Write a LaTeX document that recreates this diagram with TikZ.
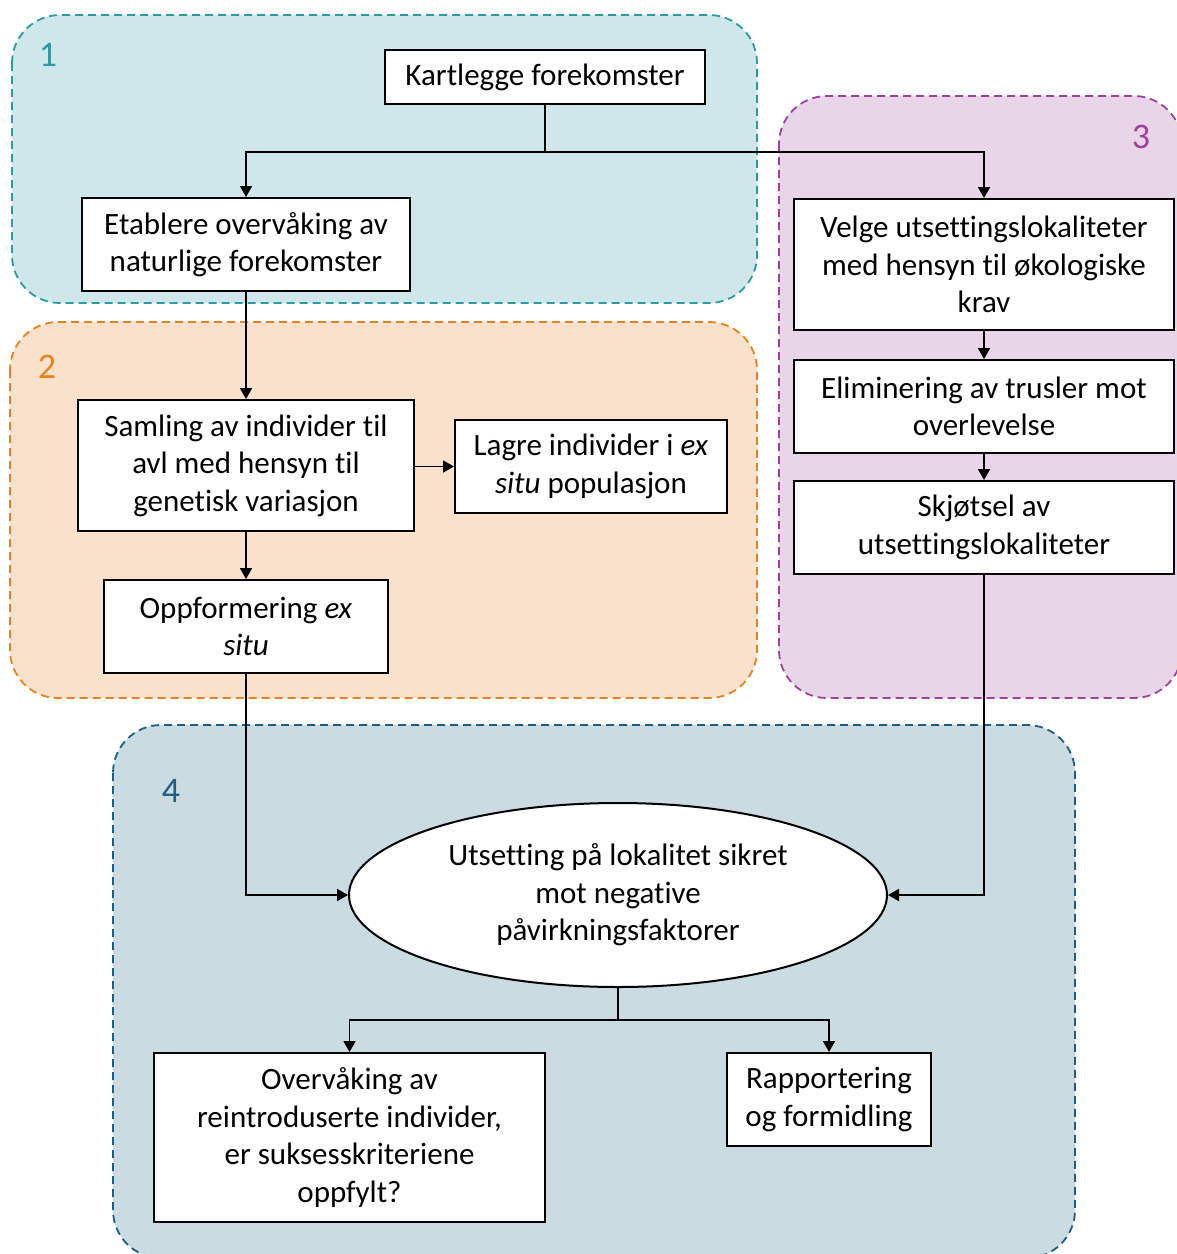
\documentclass[tikz,border=0pt]{standalone}
\usepackage{fontspec}
\setmainfont{Carlito}[Ligatures={NoCommon}]
\usetikzlibrary{arrows.meta,shapes.geometric}
\definecolor{tealfill}{HTML}{CFE7EA}
\definecolor{tealline}{HTML}{2A9BA3}
\definecolor{orfill}{HTML}{FAE1CB}
\definecolor{orline}{HTML}{E8821E}
\definecolor{pufill}{HTML}{E8D6E8}
\definecolor{puline}{HTML}{A0409C}
\definecolor{blfill}{HTML}{CADBE2}
\definecolor{blline}{HTML}{1C5F82}
\tikzset{
  region/.style={line width=1.8pt, dash pattern=on 8pt off 5pt, rounded corners=48pt},
  regnum/.style={font=\fontsize{36}{40}\selectfont, anchor=center},
  stepbox/.style={draw=black, fill=white, line width=2pt, align=center, inner sep=0pt,
     font=\fontsize{31}{37.5}\selectfont},
  conn/.style={line width=1.8pt, -{Triangle[length=11pt,width=12pt]}},
  plain/.style={line width=1.8pt}
}
\begin{document}
\begin{tikzpicture}[x=1pt,y=-1pt]
\useasboundingbox (0,0) rectangle (1177,1254);
\clip (0,0) rectangle (1177,1254);
% regions
\draw[region, fill=tealfill, draw=tealline] (12,15) rectangle (757,303);
\draw[region, fill=orfill, draw=orline] (10,322) rectangle (757,698);
\draw[region, fill=pufill, draw=puline] (779,96) rectangle (1182,698);
\draw[region, fill=blfill, draw=blline] (113,725) rectangle (1075,1258);
\node[regnum, text=tealline] (n1) at (48,55) {1};
\node[regnum, text=orline] (n2) at (47,367) {2};
\node[regnum, text=puline] (n3) at (1141,137) {3};
\node[regnum, text=blline] (n4) at (171,791) {4};
% nodes
\node[stepbox, minimum width=320pt, minimum height=54pt] (kart) at (545,77) {Kartlegge forekomster};
\node[stepbox, minimum width=328pt, minimum height=93pt] (etab) at (246,244.5) {Etablere overvåking av\\naturlige forekomster};
\node[stepbox, minimum width=336pt, minimum height=131pt] (saml) at (246,465.5) {Samling av individer til\\avl med hensyn til\\genetisk variasjon};
\node[stepbox, minimum width=272pt, minimum height=93pt] (lagre) at (591,466.5) {Lagre individer i \textit{ex}\\\textit{situ} populasjon};
\node[stepbox, minimum width=284pt, minimum height=93pt] (oppf) at (246,626.5) {Oppformering \textit{ex}\\\textit{situ}};
\node[stepbox, minimum width=380pt, minimum height=131pt] (velge) at (984,264.5) {Velge utsettingslokaliteter\\med hensyn til økologiske\\krav};
\node[stepbox, minimum width=380pt, minimum height=93pt] (elim) at (984,406.5) {Eliminering av trusler mot\\overlevelse};
\node[stepbox, minimum width=380pt, minimum height=93pt] (skj) at (984,527.5) {Skjøtsel av\\utsettingslokaliteter};
\node[stepbox, ellipse, minimum width=538pt, minimum height=184pt] (uts) at (618,895) {Utsetting på lokalitet sikret\\mot negative\\påvirkningsfaktorer};
\node[stepbox, minimum width=391pt, minimum height=169pt] (overv) at (349.5,1137.5) {Overvåking av\\reintroduserte individer,\\er suksesskriteriene\\oppfylt?};
\node[stepbox, minimum width=204pt, minimum height=93pt] (rapp) at (829,1099.5) {Rapportering\\og formidling};
% connectors
\coordinate (split1) at (545,152);
\draw[plain] (kart.south) -- (split1);
\draw[conn] (split1) -| (etab.north);
\draw[conn] (split1) -| (velge.north);
\draw[conn] (etab.south) -- (saml.north);
\draw[conn] (saml.east |- lagre.west) -- (lagre.west);
\draw[conn] (saml.south) -- (oppf.north);
\draw[conn] (velge.south) -- (elim.north);
\draw[conn] (elim.south) -- (skj.north);
\draw[conn] (oppf.south) |- (uts.west);
\draw[conn] (skj.south) |- (uts.east);
\coordinate (split2) at (618,1020);
\draw[plain] (uts.south) -- (split2);
\draw[conn] (split2) -| (overv.north);
\draw[conn] (split2) -| (rapp.north);
\end{tikzpicture}
\end{document}
